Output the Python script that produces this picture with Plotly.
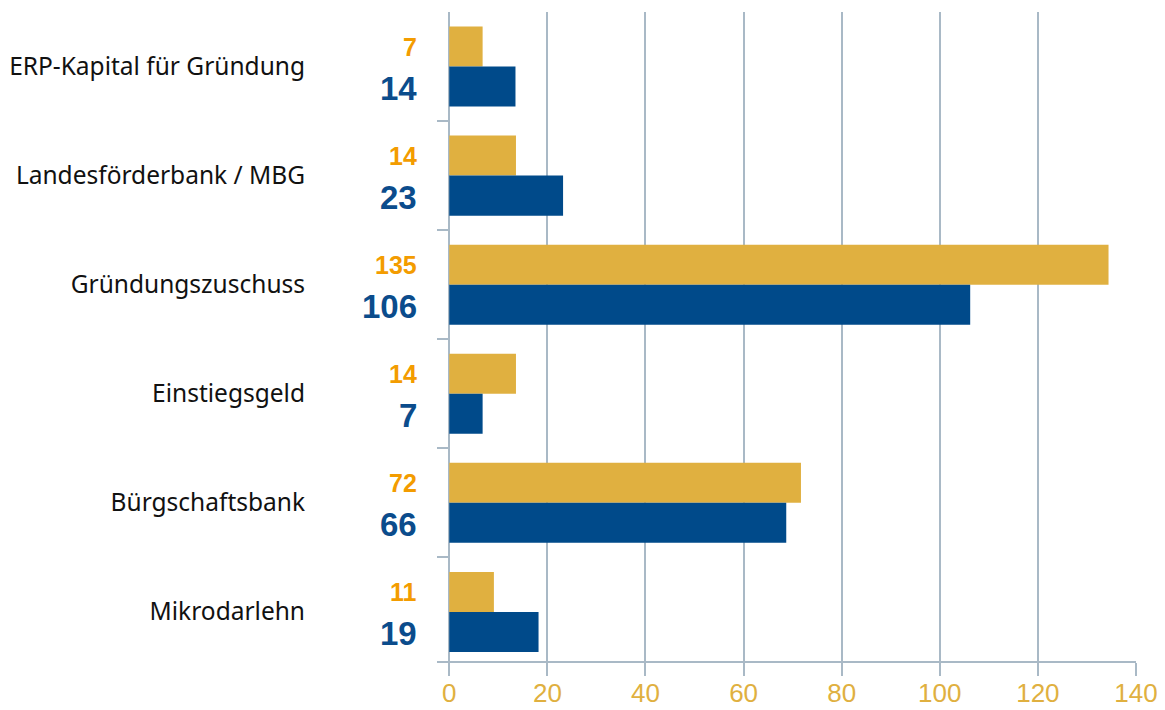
import plotly.graph_objects as go

categories = ["ERP-Kapital für Gründung", "Landesförderbank / MBG", "Gründungszuschuss",
              "Einstiegsgeld", "Bürgschaftsbank", "Mikrodarlehn"]
gold_bars = [6.8, 13.6, 134.4, 13.6, 71.7, 9.1]
blue_bars = [13.5, 23.2, 106.2, 6.8, 68.7, 18.2]
gold_labels = ["7", "14", "135", "14", "72", "11"]
blue_labels = ["14", "23", "106", "7", "66", "19"]
x_ticks = [0, 20, 40, 60, 80, 100, 120, 140]

GOLD = "#E0B040"
BLUE = "#004A8A"
GOLD_TXT = "#F39C00"
BLUE_TXT = "#0B4C8C"
GRID = "#A9B9C6"

fig = go.Figure()
fig.add_trace(go.Bar(y=categories, x=gold_bars, orientation="h",
                     marker=dict(color=GOLD, line=dict(width=0)), hoverinfo="skip"))
fig.add_trace(go.Bar(y=categories, x=blue_bars, orientation="h",
                     marker=dict(color=BLUE, line=dict(width=0)), hoverinfo="skip"))

for c, g, b in zip(categories, gold_labels, blue_labels):
    fig.add_annotation(x=0, y=c, xref="x", yref="y", text=f"<b>{g}</b>", showarrow=False,
                       xanchor="right", yanchor="middle", xshift=-30, yshift=20,
                       font=dict(family="Liberation Sans, Arial, sans-serif", size=25, color=GOLD_TXT))
    fig.add_annotation(x=0, y=c, xref="x", yref="y", text=f"<b>{b}</b>", showarrow=False,
                       xanchor="right", yanchor="middle", xshift=-30, yshift=-22,
                       font=dict(family="Liberation Sans, Arial, sans-serif", size=33, color=BLUE_TXT))

# the page body adds an 8 px offset, so the figure is drawn 8 px smaller
fig.update_layout(
    width=1157, height=702,
    margin=dict(l=429, r=29, t=4, b=49),
    paper_bgcolor="white", plot_bgcolor="white",
    barmode="group", bargap=0.266, bargroupgap=0,
    showlegend=False,
    xaxis=dict(range=[-2.5, 140], tickvals=x_ticks, showgrid=True, gridcolor=GRID, gridwidth=1.5,
               zeroline=True, zerolinecolor=GRID, zerolinewidth=2,
               showline=True, linecolor=GRID, linewidth=2,
               ticks="outside", ticklen=13, tickcolor=GRID, tickwidth=2,
               ticklabelstandoff=-5,
               tickfont=dict(family="Liberation Sans, Arial, sans-serif", size=26, color=GOLD),
               automargin=False, fixedrange=True),
    yaxis=dict(type="category", categoryorder="array", categoryarray=categories,
               range=[5.45, -0.5], tickson="boundaries", ticks="inside", ticklen=12,
               tickcolor=GRID, tickwidth=2, showline=False, showgrid=False, zeroline=False,
               ticklabelstandoff=131,
               tickfont=dict(family="Noto Sans, sans-serif", size=24.5, color="#111111"),
               automargin=False, fixedrange=True),
)

fig.write_html("out.html")
